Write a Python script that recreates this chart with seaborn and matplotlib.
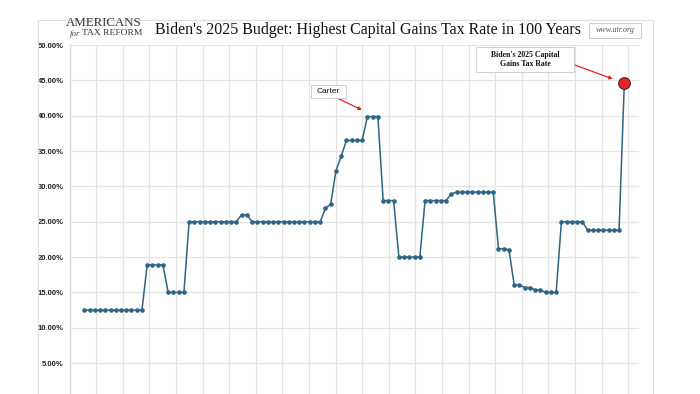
import numpy as np
import pandas as pd
import matplotlib
matplotlib.use("Agg")
import matplotlib.pyplot as plt
from matplotlib.patches import Rectangle
import seaborn as sns

# 数据：1922-2025 年资本利得最高税率（%）
years = list(range(1922, 2026))
rates = [
    12.5, 12.5, 12.5, 12.5, 12.5, 12.5, 12.5, 12.5, 12.5, 12.5, 12.5, 12.5,   # 1922-1933
    18.9, 18.9, 18.9, 18.9,                                                   # 1934-1937
    15.0, 15.0, 15.0, 15.0,                                                   # 1938-1941
    25.0, 25.0, 25.0, 25.0, 25.0, 25.0, 25.0, 25.0, 25.0, 25.0,               # 1942-1951
    26.0, 26.0,                                                               # 1952-1953
    25.0, 25.0, 25.0, 25.0, 25.0, 25.0, 25.0, 25.0, 25.0, 25.0, 25.0, 25.0, 25.0, 25.0,  # 1954-1967
    26.9, 27.5, 32.21, 34.25,                                                 # 1968-1971
    36.5, 36.5, 36.5, 36.5,                                                   # 1972-1975
    39.875, 39.875, 39.875,                                                   # 1976-1978
    28.0, 28.0, 28.0,                                                         # 1979-1981
    20.0, 20.0, 20.0, 20.0, 20.0,                                             # 1982-1986
    28.0, 28.0, 28.0, 28.0, 28.0,                                             # 1987-1991
    28.93,                                                                    # 1992
    29.19, 29.19, 29.19, 29.19, 29.19, 29.19, 29.19, 29.19,                   # 1993-2000
    21.19, 21.19, 21.05,                                                      # 2001-2003
    16.05, 16.05, 15.7, 15.7, 15.35, 15.35,                                   # 2004-2009
    15.0, 15.0, 15.0,                                                         # 2010-2012
    25.0, 25.0, 25.0, 25.0, 25.0,                                             # 2013-2017
    23.8, 23.8, 23.8, 23.8, 23.8, 23.8, 23.8,                                 # 2018-2024
    44.6,                                                                     # 2025
]
y_ticks = [5, 10, 15, 20, 25, 30, 35, 40, 45, 50]
title = "Biden's 2025 Budget: Highest Capital Gains Tax Rate in 100 Years"

df = pd.DataFrame({"year": years, "rate": rates})

sns.set_style("whitegrid")
plt.rcParams['font.family'] = ['Liberation Sans', 'DejaVu Sans']

W, H = 700, 394
fig = plt.figure(figsize=(W / 100, H / 100), dpi=100)


def fx(px):
    return px / W


def fy(py):
    return 1 - py / H


# 图表外框
fig.patches.append(Rectangle((fx(38), fy(400)), fx(653) - fx(38), fy(20) - fy(400),
                             transform=fig.transFigure, fill=False,
                             edgecolor='#dedede', lw=0.8))

# 绘图区（底部 0% 被裁掉）
left, right, top, bottom = 69.5, 639, 45, 398.5
ax = fig.add_axes([fx(left), fy(bottom), fx(right) - fx(left), fy(top) - fy(bottom)])

x0 = 1919.18
px_per_yr = 5.243
ax.set_xlim(x0, x0 + (right - left) / px_per_yr)
ax.set_ylim(0, 50)

sns.lineplot(data=df, x='year', y='rate', ax=ax, color='#2f6482', lw=1.1,
             marker='o', markersize=3.3, markeredgewidth=0, zorder=3)
last = df.iloc[[-1]]
sns.scatterplot(data=last, x='year', y='rate', ax=ax, s=70, color='#e8242a',
                edgecolor='#5a1a1a', linewidth=0.8, zorder=4)

ax.set_xticks(x0 + np.arange(0, 22) * 26.6 / px_per_yr)
ax.set_xticklabels([])
ax.set_yticks(y_ticks)
ax.set_yticklabels([f"{v:.2f}%" for v in y_ticks], fontsize=5.5, fontweight='bold', color='#222222')
ax.tick_params(length=0, pad=4)
ax.grid(True, color='#e3e3e3', lw=0.9)
ax.set_xlabel('')
ax.set_ylabel('')
for s in ['top', 'right', 'bottom']:
    ax.spines[s].set_visible(False)
ax.spines['left'].set_color('#d8d8d8')
ax.spines['left'].set_linewidth(0.9)

# 标注
ax.annotate('', xy=(1974.97, 40.8), xytext=(1970.2, 42.5),
            arrowprops=dict(arrowstyle='-|>', color='#e0242a', lw=0.9,
                            mutation_scale=5, shrinkA=0, shrinkB=0))
ax.annotate('', xy=(2022.8, 45.2), xytext=(2013.85, 47.64),
            arrowprops=dict(arrowstyle='-|>', color='#e0242a', lw=0.9,
                            mutation_scale=5, shrinkA=0, shrinkB=0))

fig.patches.append(Rectangle((fx(311), fy(98)), fx(346) - fx(311), fy(85) - fy(98),
                             transform=fig.transFigure, facecolor='white',
                             edgecolor='#cfcfcf', lw=0.7, zorder=5))
fig.text(fx(328.5), fy(91.5), 'Carter', ha='center', va='center', fontsize=6,
         color='#111111', zorder=6)

fig.patches.append(Rectangle((fx(476), fy(72)), fx(574) - fx(476), fy(47) - fy(72),
                             transform=fig.transFigure, facecolor='white',
                             edgecolor='#cfcfcf', lw=0.7, zorder=5))
fig.text(fx(525), fy(59.5), "Biden's 2025 Capital\nGains Tax Rate", ha='center', va='center',
         fontsize=5.6, fontweight='bold', family=['Liberation Serif', 'DejaVu Serif'],
         color='#111111', linespacing=1.25, zorder=6)

# 标题与标志
fig.text(fx(368), fy(30), title, ha='center', va='center', fontsize=11.5,
         family=['Liberation Serif', 'DejaVu Serif'], color='#111111')
fig.text(fx(142), fy(23), 'AMERICANS', ha='right', va='center', fontsize=9.3,
         family=['Liberation Serif', 'DejaVu Serif'], color='#333333')
fig.text(fx(142), fy(33), 'TAX REFORM', ha='right', va='center', fontsize=6.8,
         family=['Liberation Serif', 'DejaVu Serif'], color='#333333')
fig.text(fx(70), fy(34), 'for', ha='left', va='center', fontsize=6.5, style='italic',
         family=['Liberation Serif', 'DejaVu Serif'], color='#444444')

fig.patches.append(Rectangle((fx(589), fy(38)), fx(641) - fx(589), fy(23) - fy(38),
                             transform=fig.transFigure, facecolor='white',
                             edgecolor='#cccccc', lw=0.7))
fig.text(fx(615), fy(30.5), 'www.atr.org', ha='center', va='center', fontsize=5.8,
         style='italic', family=['Liberation Serif', 'DejaVu Serif'], color='#555555')

fig.savefig('out.png', dpi=100)
